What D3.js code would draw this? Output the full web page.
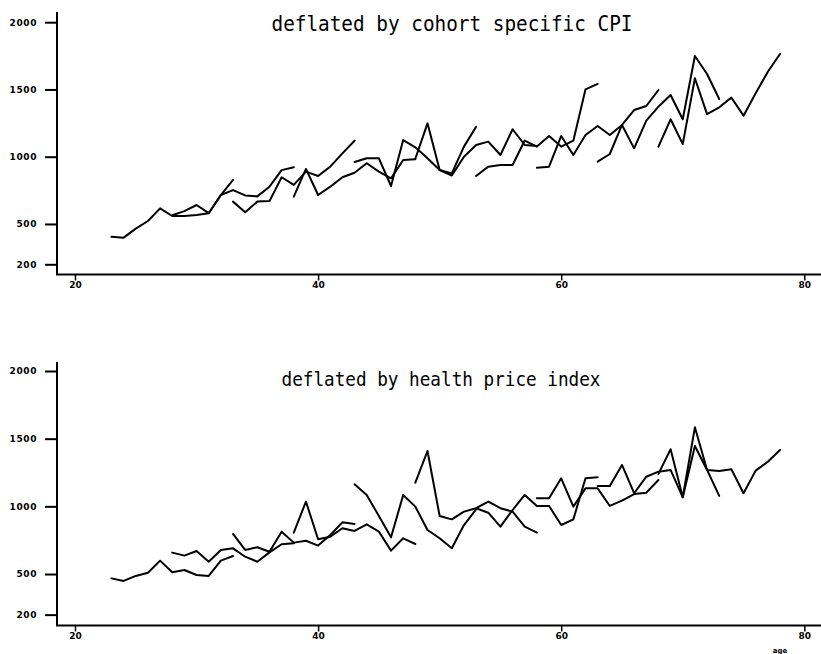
<!DOCTYPE html>
<html><head><meta charset="utf-8">
<script src="https://cdn.jsdelivr.net/npm/d3@7"></script>
<style>body{margin:0;background:#fff} svg{display:block}</style>
</head><body><svg id="c" width="821" height="654"></svg>
<script>
// ---- data ----
const cohortStartAges = [23, 28, 33, 38, 43, 48, 53, 58, 63, 68];
const yearsObserved = 11;
const cpiValues = [
  [405, 398, 465, 522, 616, 559, 559, 567, 580, 715, 827],
  [565, 595, 641, 580, 715, 752, 712, 705, 777, 900, 921],
  [666, 587, 666, 670, 847, 790, 889, 857, 926, 1025, 1119],
  [703, 909, 715, 777, 847, 881, 951, 889, 839, 975, 981],
  [960, 988, 988, 782, 1124, 1070, 988, 901, 876, 1075, 1223],
  [985, 1248, 901, 860, 1000, 1087, 1112, 1013, 1204, 1087, 1080],
  [857, 926, 938, 938, 1120, 1075, 1154, 1075, 1119, 1501, 1541],
  [918, 926, 1154, 1013, 1161, 1228, 1161, 1236, 1347, 1377, 1496],
  [963, 1020, 1236, 1062, 1268, 1372, 1459, 1278, 1749, 1615, 1429],
  [1075, 1278, 1094, 1583, 1317, 1367, 1439, 1305, 1471, 1632, 1764]
];
const healthValues = [
  [468, 449, 486, 510, 599, 513, 530, 493, 486, 599, 633],
  [658, 636, 670, 591, 678, 690, 628, 591, 660, 720, 727],
  [796, 678, 698, 665, 813, 732, 746, 710, 788, 882, 870],
  [806, 1035, 757, 776, 838, 818, 867, 813, 673, 764, 722],
  [1163, 1084, 929, 771, 1084, 998, 825, 764, 690, 862, 978],
  [1175, 1409, 929, 904, 961, 986, 1035, 986, 961, 850, 806],
  [986, 953, 850, 973, 1084, 1003, 1003, 862, 904, 1207, 1215],
  [1060, 1060, 1207, 998, 1133, 1133, 1003, 1042, 1091, 1101, 1195],
  [1151, 1151, 1306, 1097, 1219, 1256, 1269, 1067, 1584, 1269, 1077],
  [1240, 1422, 1067, 1446, 1269, 1261, 1274, 1097, 1264, 1330, 1417]
];
const yTickValues = [200, 500, 1000, 1500, 2000];
const xTickValues = [20, 40, 60, 80];
const panelTitles = ["deflated by cohort specific CPI", "deflated by health price index"];
const xAxisLabel = "age";

// ---- drawing ----
const svg = d3.select("#c");
svg.append("rect").attr("width", 821).attr("height", 654).attr("fill", "#fff");

const x = d3.scaleLinear().domain([20, 80]).range([75, 804.3]);

const panels = [
  { vals: cpiValues, y: d3.scaleLinear().domain([0, 2000]).range([291.2, 22.2]),
    axisY: 274.5, axisTop: 12, title: panelTitles[0], titleX: 271.5, titleY: 30.7, titleSize: 19.5, titleW: 361 },
  { vals: healthValues, y: d3.scaleLinear().domain([0, 2000]).range([641.7, 371]),
    axisY: 625.5, axisTop: 362, title: panelTitles[1], titleX: 281.5, titleY: 385.7, titleSize: 17.8, titleW: 319 }
];

const tickFont = "'DejaVu Sans', sans-serif";

panels.forEach(p => {
  const g = svg.append("g");
  // axis lines
  g.append("line").attr("x1", 57).attr("x2", 57).attr("y1", p.axisTop).attr("y2", p.axisY)
    .attr("stroke", "#000").attr("stroke-width", 2);
  g.append("line").attr("x1", 56).attr("x2", 821).attr("y1", p.axisY).attr("y2", p.axisY)
    .attr("stroke", "#000").attr("stroke-width", 2);

  // y axis
  const ya = g.append("g").attr("transform", "translate(57,0)")
    .call(d3.axisLeft(p.y).tickValues(yTickValues).tickSize(12).tickPadding(8).tickFormat(d3.format("d")));
  ya.select(".domain").remove();
  ya.selectAll(".tick line").attr("stroke", "#000").attr("stroke-width", 2);
  ya.selectAll(".tick text").attr("font-family", tickFont).attr("font-weight", "bold")
    .attr("font-size", 9).attr("letter-spacing", 0.6).attr("fill", "#000");

  // x axis
  const xa = g.append("g").attr("transform", `translate(0,${p.axisY})`)
    .call(d3.axisBottom(x).tickValues(xTickValues).tickSize(6).tickPadding(1.5).tickFormat(d3.format("d")));
  xa.select(".domain").remove();
  xa.selectAll(".tick line").attr("stroke", "#000").attr("stroke-width", 1.5);
  xa.selectAll(".tick text").attr("font-family", tickFont).attr("font-weight", "bold")
    .attr("font-size", 9).attr("fill", "#000");

  // title
  g.append("text")
    .attr("transform", `translate(${p.titleX},${p.titleY}) scale(1,1.12)`)
    .attr("font-family", "'DejaVu Sans Mono', monospace")
    .attr("font-size", p.titleSize)
    .attr("textLength", p.titleW).attr("lengthAdjust", "spacingAndGlyphs")
    .attr("fill", "#000")
    .text(p.title);

  // cohort lines
  const line = d3.line().x(d => x(d.age)).y(d => p.y(d.v));
  p.vals.forEach((series, i) => {
    const pts = series.map((v, k) => ({ age: cohortStartAges[i] + k, v }));
    g.append("path").datum(pts).attr("d", line)
      .attr("fill", "none").attr("stroke", "#000").attr("stroke-width", 2)
      .attr("stroke-linejoin", "round").attr("stroke-linecap", "round");
  });
});

svg.append("text").attr("x", 780).attr("y", 653).attr("text-anchor", "middle")
  .attr("font-family", tickFont).attr("font-weight", "bold").attr("font-size", 7)
  .attr("fill", "#000").text(xAxisLabel);
</script></body></html>
